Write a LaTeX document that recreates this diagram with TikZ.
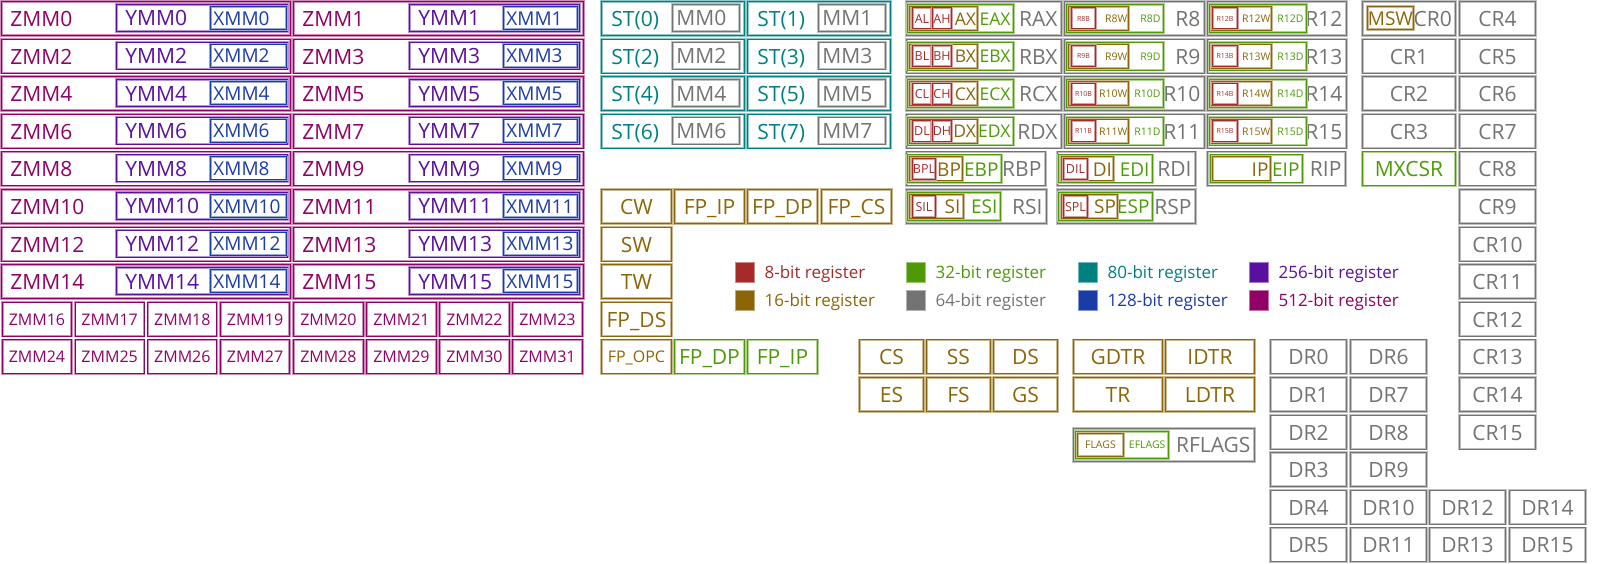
\documentclass[tikz,border=0pt]{standalone}
\usepackage{fontspec}
\setmainfont{Open Sans}
\usepackage{tikz}
\usetikzlibrary{positioning}
\definecolor{bit8}{HTML}{A52A2A}
\definecolor{bit16}{HTML}{8B6508}
\definecolor{bit32}{HTML}{4E9A06}
\definecolor{bit64}{HTML}{737373}
\definecolor{bit80}{HTML}{008080}
\definecolor{bit128}{HTML}{1A3CA8}
\definecolor{bit256}{HTML}{5A0FA0}
\definecolor{bit512}{HTML}{910064}
\tikzset{
  fbig/.style={font=\fontsize{21}{24}\selectfont, text height=16pt},
  fmid/.style={font=\fontsize{19}{22}\selectfont, text height=14.4pt},
  fgp/.style={font=\fontsize{17.5}{20}\selectfont, text height=13.3pt},
  fsmall/.style={font=\fontsize{16}{19}\selectfont, text height=12.2pt},
  fxs/.style={font=\fontsize{12.5}{15}\selectfont, text height=9.5pt},
  fxxs/.style={font=\fontsize{10.5}{12}\selectfont, text height=8pt},
  fmin/.style={font=\fontsize{7}{8}\selectfont, text height=5.3pt},
  reg/.style={rectangle, draw=#1, text=#1, line width=0.9pt,
    preaction={draw=#1!45, line width=2.4pt},
    inner sep=0pt, anchor=north west, text depth=0pt, fbig},
  tall/.style={minimum height=#1pt},
  midcell/.style={minimum width=#1pt},
  leftcell/.style 2 args={text width=#1pt, inner xsep=#2pt, align=left},
  rightcell/.style 2 args={text width=#1pt, inner xsep=#2pt, align=right},
  swatch/.style={rectangle, draw=#1!55, fill=#1, minimum width=19pt, minimum height=20pt, inner sep=0pt, anchor=north west},
  keytext/.style={text=#1, inner sep=0pt, text depth=0pt, font=\fontsize{17}{20}\selectfont, text height=12.9pt}
}
\begin{document}
\begin{tikzpicture}[x=1pt, y=-1pt]
\useasboundingbox (0,0) rectangle (1600,564);
% vector registers
\foreach \r in {0,...,7}{
  \pgfmathtruncatemacro\zl{2*\r}
  \pgfmathtruncatemacro\zr{2*\r+1}
  \pgfmathsetmacro\y{1+37.6*\r}
  \node[reg=bit512, leftcell={271}{9}, tall=34] (zmm\zl) at (1,\y) {ZMM\zl};
  \node[reg=bit256, leftcell={153}{9}, tall=27] (ymm\zl) at (116,\y+3) {YMM\zl};
  \node[reg=bit128, fmid, leftcell={70}{3}, tall=23] (xmm\zl) at (210,\y+5) {XMM\zl};
  \node[reg=bit512, leftcell={272}{9}, tall=34] (zmm\zr) at (293,\y) {ZMM\zr};
  \node[reg=bit256, leftcell={152}{9}, tall=27] (ymm\zr) at (409,\y+3) {YMM\zr};
  \node[reg=bit128, fmid, leftcell={68}{3}, tall=23] (xmm\zr) at (503,\y+5) {XMM\zr};
}
\foreach \k in {0,...,3}{
  \pgfmathtruncatemacro\na{16+\k}
  \pgfmathtruncatemacro\nb{20+\k}
  \pgfmathtruncatemacro\nc{24+\k}
  \pgfmathtruncatemacro\nd{28+\k}
  \node[reg=bit512, fsmall, midcell=69, tall=34] (zmm\na) at (2+72.7*\k,301.8) {ZMM\na};
  \node[reg=bit512, fsmall, midcell=70, tall=34] (zmm\nb) at (293+73*\k,301.8) {ZMM\nb};
  \node[reg=bit512, fsmall, midcell=69, tall=34] (zmm\nc) at (2+72.7*\k,339.4) {ZMM\nc};
  \node[reg=bit512, fsmall, midcell=70, tall=34] (zmm\nd) at (293+73*\k,339.4) {ZMM\nd};
}

% x87 stack and mmx
\foreach \r in {0,...,3}{
  \pgfmathtruncatemacro\sa{2*\r}
  \pgfmathtruncatemacro\sb{2*\r+1}
  \pgfmathsetmacro\y{1+37.6*\r}
  \node[reg=bit80, leftcell={123}{10}, tall=34] (st\sa) at (601,\y) {ST(\sa)};
  \node[reg=bit64, leftcell={59}{4}, tall=27] (mm\sa) at (672,\y+3) {MM\sa};
  \node[reg=bit80, leftcell={123}{10}, tall=34] (st\sb) at (747,\y) {ST(\sb)};
  \node[reg=bit64, leftcell={59}{4}, tall=27] (mm\sb) at (818,\y+3) {MM\sb};
}
\node[reg=bit16, midcell=70, tall=34] (cw) at (601,189) {CW};
\node[reg=bit16, midcell=70, tall=34] (fpip) at (674,189) {FP\_IP};
\node[reg=bit16, midcell=70, tall=34] (fpdp) at (747,189) {FP\_DP};
\node[reg=bit16, midcell=70, tall=34] (fpcs) at (821,189) {FP\_CS};
\node[reg=bit16, midcell=70, tall=34] (sw) at (601,226.6) {SW};
\node[reg=bit16, midcell=70, tall=34] (tw) at (601,264.2) {TW};
\node[reg=bit16, midcell=70, tall=34] (fpds) at (601,301.8) {FP\_DS};
\node[reg=bit16, fsmall, midcell=70, tall=34] (fpopc) at (601,339.4) {FP\_OPC};
\node[reg=bit32, midcell=70, tall=34] (fpdpx) at (674,339.4) {FP\_DP};
\node[reg=bit32, midcell=70, tall=34] (fpipx) at (747,339.4) {FP\_IP};

% general purpose registers
\foreach \r/\gp in {0/A,1/B,2/C,3/D}{
  \pgfmathsetmacro\y{1+37.6*\r}
  \node[reg=bit64, rightcell={147}{4}, tall=34] (r\gp) at (906,\y) {R\gp X};
  \node[reg=bit32, fgp, rightcell={100}{3}, tall=28] (e\gp) at (907,\y+3) {E\gp X};
  \node[reg=bit16, fgp, rightcell={65}{1.5}, tall=24] (w\gp) at (909,\y+5) {\gp X};
  \node[reg=bit8, fxs, midcell=19, tall=21] (lo\gp) at (912,\y+6.5) {\gp L};
  \node[reg=bit8, fxs, midcell=19, tall=21] (hi\gp) at (932,\y+6.5) {\gp H};
}
\foreach \r in {0,...,3}{
  \pgfmathtruncatemacro\na{8+\r}
  \pgfmathtruncatemacro\nb{12+\r}
  \pgfmathsetmacro\y{1+37.6*\r}
  \node[reg=bit64, rightcell={132}{4}, tall=34] (r\na) at (1064,\y) {R\na};
  \node[reg=bit32, fxxs, rightcell={91}{3}, tall=28] (r\na d) at (1066,\y+3) {R\na D};
  \node[reg=bit16, fxxs, rightcell={58}{1}, tall=24] (r\na w) at (1068,\y+5) {R\na W};
  \node[reg=bit8, fmin, midcell=24, tall=21] (r\na b) at (1071,\y+6.5) {R\na B};
  \node[reg=bit64, rightcell={131}{4}, tall=34] (r\nb) at (1207,\y) {R\nb};
  \node[reg=bit32, fxxs, rightcell={91}{3}, tall=28] (r\nb d) at (1209,\y+3) {R\nb D};
  \node[reg=bit16, fxxs, rightcell={58}{1}, tall=24] (r\nb w) at (1211,\y+5) {R\nb W};
  \node[reg=bit8, fmin, midcell=25, tall=21] (r\nb b) at (1212,\y+6.5) {R\nb B};
}
\node[reg=bit64, rightcell={131}{4}, tall=34] (rbp) at (906,151.4) {RBP};
\node[reg=bit32, fmid, rightcell={88}{3}, tall=28] (ebp) at (907,154.4) {EBP};
\node[reg=bit16, fmid, rightcell={50}{1.5}, tall=24] (bp) at (909,156.4) {BP};
\node[reg=bit8, fxs, midcell=23, tall=21] (bpl) at (912,157.9) {BPL};
\node[reg=bit64, rightcell={130}{4}, tall=34] (rdi) at (1057,151.4) {RDI};
\node[reg=bit32, fmid, rightcell={88}{3}, tall=28] (edi) at (1058,154.4) {EDI};
\node[reg=bit16, fmid, rightcell={49}{1.5}, tall=24] (di) at (1061,156.4) {DI};
\node[reg=bit8, fxs, midcell=24, tall=21] (dil) at (1063,157.9) {DIL};
\node[reg=bit64, rightcell={130}{4}, tall=34] (rip) at (1207,151.4) {RIP};
\node[reg=bit32, fmid, rightcell={86}{3}, tall=28] (eip) at (1210,154.4) {EIP};
\node[reg=bit16, fmid, rightcell={54}{2}, tall=24] (ip) at (1212,156.4) {IP};
\node[reg=bit64, rightcell={132}{4}, tall=34] (rsi) at (906,189) {RSI};
\node[reg=bit32, fmid, rightcell={87}{3}, tall=28] (esi) at (907,192) {ESI};
\node[reg=bit16, fmid, rightcell={48}{3}, tall=24] (si) at (909,194) {SI};
\node[reg=bit8, fxs, midcell=23, tall=21] (sil) at (912,195.5) {SIL};
\node[reg=bit64, rightcell={130}{4}, tall=34] (rsp) at (1057,189) {RSP};
\node[reg=bit32, fmid, rightcell={88}{3}, tall=28] (esp) at (1058,192) {ESP};
\node[reg=bit16, fmid, rightcell={53}{1.5}, tall=24] (sp) at (1061,194) {SP};
\node[reg=bit8, fxs, midcell=24, tall=21] (spl) at (1063,195.5) {SPL};

% segment and table registers
\foreach \c/\sg/\sh in {0/CS/ES,1/SS/FS,2/DS/GS}{
  \node[reg=bit16, midcell=64, tall=34] (\sg) at (859+67*\c,339.4) {\sg};
  \node[reg=bit16, midcell=64, tall=34] (\sh) at (859+67*\c,377) {\sh};
}
\node[reg=bit16, midcell=89, tall=34] (gdtr) at (1073,339.4) {GDTR};
\node[reg=bit16, midcell=89, tall=34] (idtr) at (1165,339.4) {IDTR};
\node[reg=bit16, midcell=89, tall=34] (tr) at (1073,377) {TR};
\node[reg=bit16, midcell=89, tall=34] (ldtr) at (1165,377) {LDTR};
\node[reg=bit64, rightcell={173}{4}, tall=33] (rflags) at (1073,428) {RFLAGS};
\node[reg=bit32, fxxs, rightcell={87}{3}, tall=27] (eflags) at (1075,431) {EFLAGS};
\node[reg=bit16, fxxs, midcell=46, tall=23] (flags) at (1077,433) {FLAGS};

% control and debug registers
\node[reg=bit64, rightcell={86}{3.5}, tall=34] (cr0) at (1362,1) {CR0};
\node[reg=bit16, fmid, midcell=46, tall=23] (msw) at (1367,6) {MSW};
\foreach \r in {1,2,3}{
  \node[reg=bit64, midcell=93, tall=34] (cr\r) at (1362,1+37.6*\r) {CR\r};
}
\node[reg=bit32, midcell=93, tall=34] (mxcsr) at (1362,151.4) {MXCSR};
\foreach \r in {0,...,11}{
  \pgfmathtruncatemacro\n{4+\r}
  \node[reg=bit64, midcell=76, tall=34] (cr\n) at (1459,1+37.6*\r) {CR\n};
}
\foreach \r in {0,...,5}{
  \pgfmathtruncatemacro\n{6+\r}
  \node[reg=bit64, midcell=76, tall=34] (dr\r) at (1270,339.4+37.6*\r) {DR\r};
  \node[reg=bit64, midcell=76, tall=34] (dr\n) at (1350,339.4+37.6*\r) {DR\n};
}
\node[reg=bit64, midcell=76, tall=34] (dr12) at (1429,489.8) {DR12};
\node[reg=bit64, midcell=76, tall=34] (dr13) at (1429,527.4) {DR13};
\node[reg=bit64, midcell=76, tall=34] (dr14) at (1509,489.8) {DR14};
\node[reg=bit64, midcell=76, tall=34] (dr15) at (1509,527.4) {DR15};

% legend
\foreach \b/\x/\y in {8/735/262,16/735/290,32/906/262,64/906/290,80/1078/262,128/1078/290,256/1249/262,512/1249/290}{
  \node[swatch=bit\b] (key\b) at (\x,\y) {};
  \node[keytext=bit\b, right=10pt of key\b] (lbl\b) {\b-bit register};
}
\end{tikzpicture}
\end{document}
